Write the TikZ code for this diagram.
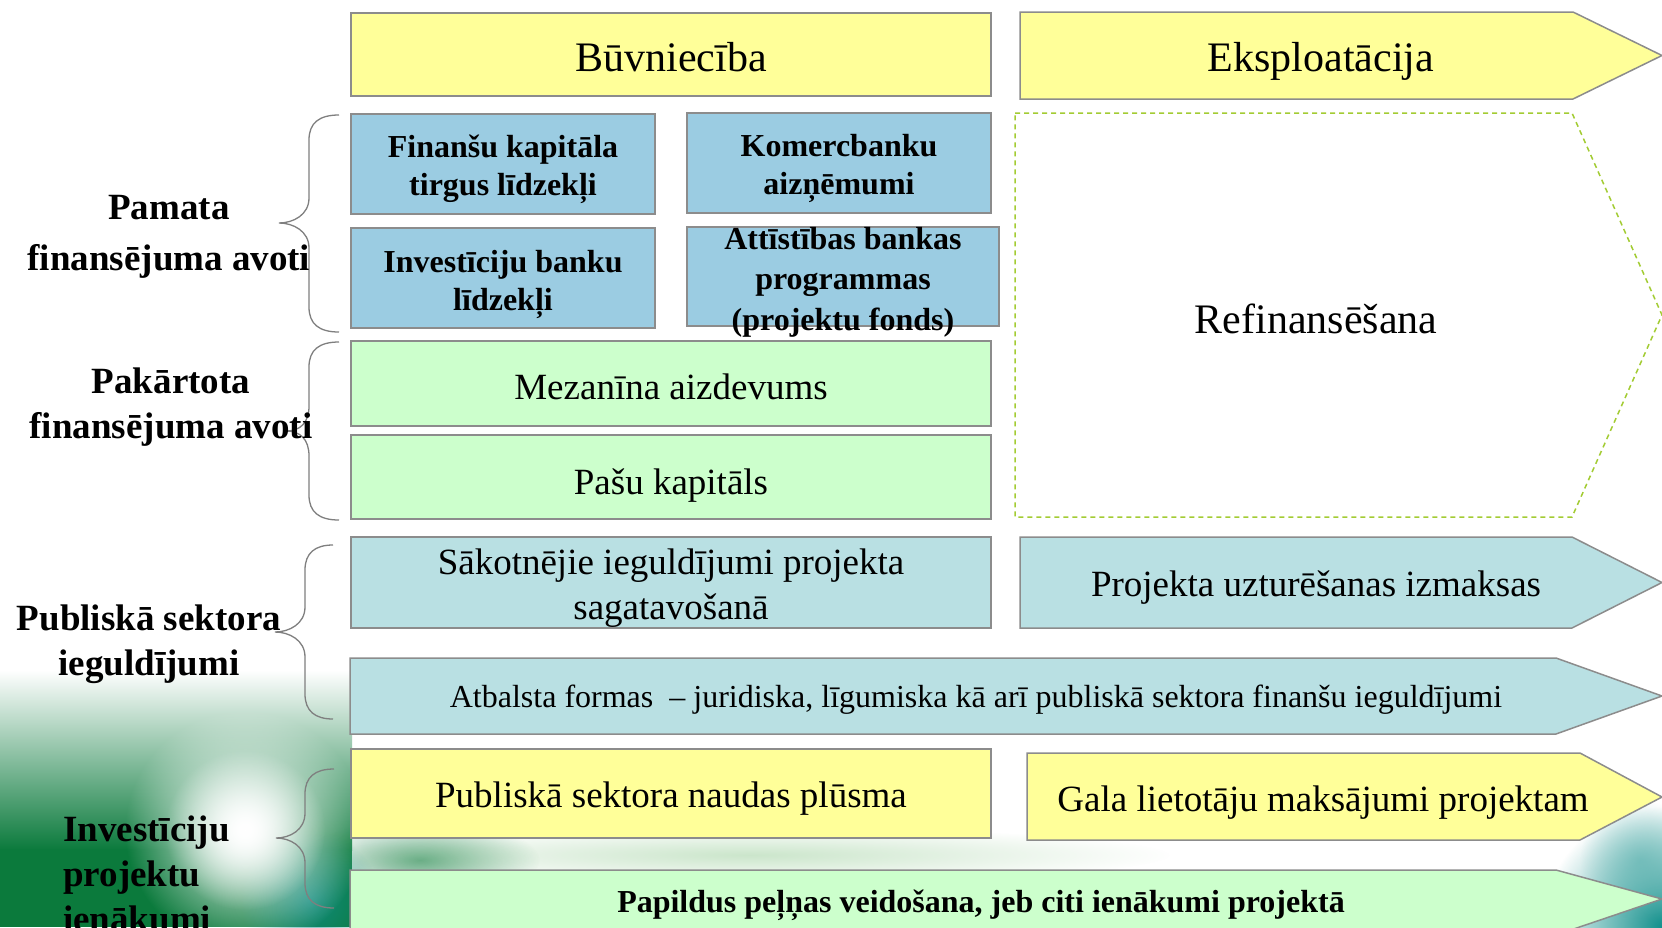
\documentclass[tikz,border=0pt]{standalone}
\usepackage{fontspec}
\setmainfont{Liberation Serif}
\usetikzlibrary{fadings}
\tikzfading[name=radfade, inner color=transparent!0, outer color=transparent!100]
\definecolor{yel}{HTML}{FFFF99}
\definecolor{bluef}{HTML}{9BCCE2}
\definecolor{grnf}{HTML}{CCFFCC}
\definecolor{tealf}{HTML}{B9E0E3}
\definecolor{bordc}{HTML}{8C8C8C}
\definecolor{dashc}{HTML}{A3CC33}
\definecolor{bracec}{HTML}{7F7F7F}
\definecolor{dkgreen}{HTML}{0B7A3C}
\definecolor{teal2}{HTML}{12908C}
\newcommand\mybrace[6]{% xend, xspine, xtip, ytop, ymid, ybot
  \draw[bracestyle] (#1,#4) .. controls ({#2+10},#4) and (#2,{#4+8}) .. (#2,{#4+25})
    -- (#2,{#5-25}) .. controls (#2,{#5-8}) and ({#3+14},#5) .. (#3,#5)
    .. controls ({#3+14},#5) and (#2,{#5+8}) .. (#2,{#5+25})
    -- (#2,{#6-25}) .. controls (#2,{#6-8}) and ({#2+10},#6) .. (#1,#6);}
\begin{document}
\begin{tikzpicture}[x=1pt,y=-1pt,
  box/.style={draw=bordc, line width=1.5pt, inner sep=0pt, align=center},
  arrowshape/.style={draw=bordc, line width=1.5pt},
  bracestyle/.style={draw=bracec, line width=1.3pt},
  big/.style={font=\fontsize{42}{48}\selectfont},
  reg/.style={font=\fontsize{37}{45}\selectfont, align=center},
  bbox/.style={font=\fontsize{32}{38}\selectfont\bfseries, align=center},
  lab/.style={font=\fontsize{37}{45}\selectfont\bfseries, align=center, inner sep=0pt},
  txt/.style={inner sep=0pt}]
\useasboundingbox (0,0) rectangle (1662,927);
\fill[white] (0,0) rectangle (1662,927);
% background
\shade[top color=white, bottom color=dkgreen] (0,670) rectangle (352,850);
\fill[dkgreen] (0,849) rectangle (352,927);
\fill[dkgreen, opacity=0.6, path fading=radfade] (420,860) ellipse (120 and 40);
\fill[teal2, opacity=0.8, path fading=radfade] (310,900) circle (70);
\fill[white, path fading=radfade] (245,830) circle (120);
\fill[white, path fading=radfade] (245,830) circle (80);
\fill[green!35!gray, opacity=0.3, path fading=radfade] (750,855) ellipse (420 and 28);
\fill[teal2, path fading=radfade] (1662,927) circle (120);
\fill[teal2!70!white, opacity=0.6, path fading=radfade] (1640,860) circle (60);

% top header
\node[box, fill=yel, minimum width=640, minimum height=83] (buv) at (671,54.5) {};
\node[txt, big] (buvt) at (671,57) {Būvniecība};
\draw[arrowshape, fill=yel] (1020,12) -- (1573,12) -- (1662,55.5) -- (1573,99) -- (1020,99) -- cycle;
\node[txt, big] (eks) at (1321,61) {Eksploatācija};

% blue boxes
\node[box, fill=bluef, minimum width=304, minimum height=100] (fin) at (503,164) {};
\node[txt, bbox] (fint) at (503,169) {Finanšu kapitāla\\tirgus līdzekļi};
\node[box, fill=bluef, minimum width=304, minimum height=100] (kom) at (839,163) {};
\node[txt, bbox] (komt) at (839,168) {Komercbanku\\aizņēmumi};
\node[box, fill=bluef, minimum width=304, minimum height=100] (inv) at (503,278) {};
\node[txt, bbox] (invt) at (503,284) {Investīciju banku\\līdzekļi};
\node[box, fill=bluef, minimum width=312, minimum height=99] (att) at (843,276.5) {};
\node[txt, bbox, font=\fontsize{32}{40.5}\selectfont\bfseries] (attt) at (843,282) {Attīstības bankas\\programmas\\(projektu fonds)};

% refinancing dashed
\draw[draw=dashc, line width=1.5pt, dash pattern=on 5pt off 4pt] (1015,113) -- (1572,113) -- (1662,315) -- (1572,517) -- (1015,517) -- cycle;
\node[txt, big] (ref) at (1316,319) {Refinansēšana};

% green boxes
\node[box, fill=grnf, minimum width=640, minimum height=85] (mez) at (671,383.5) {};
\node[txt, reg] (mezt) at (671,387) {Mezanīna aizdevums};
\node[box, fill=grnf, minimum width=640, minimum height=84] (pasu) at (671,477) {};
\node[txt, reg] (pasut) at (671,486) {Pašu kapitāls};

% public sector
\node[box, fill=tealf, minimum width=640, minimum height=91] (sak) at (671,582.5) {};
\node[txt, reg] (sakt) at (671,588) {Sākotnējie ieguldījumi projekta\\sagatavošanā};
\draw[arrowshape, fill=tealf] (1020,537) -- (1572,537) -- (1662,582.5) -- (1572,628) -- (1020,628) -- cycle;
\node[txt, reg] (proj) at (1316,588) {Projekta uzturēšanas izmaksas};
\draw[arrowshape, fill=tealf] (350,658) -- (1556,658) -- (1662,696) -- (1556,734) -- (350,734) -- cycle;
\node[txt, font=\fontsize{32}{38}\selectfont] (atb) at (976,700) {Atbalsta formas \ – juridiska, līgumiska kā arī publiskā sektora finanšu ieguldījumi};

% revenues
\node[box, fill=yel, minimum width=640, minimum height=89] (pub) at (671,793.5) {};
\node[txt, reg] (pubt) at (671,799) {Publiskā sektora naudas plūsma};
\draw[arrowshape, fill=yel] (1027,753) -- (1580,753) -- (1662,797) -- (1580,840) -- (1027,840) -- cycle;
\node[txt, reg] (gala) at (1323,803) {Gala lietotāju maksājumi projektam};
\draw[arrowshape, fill=grnf] (350,870) -- (1556,870) -- (1662,899) -- (1556,935) -- (350,935) -- cycle;
\node[txt, font=\fontsize{32}{38}\selectfont\bfseries] (pap) at (981,905) {Papildus peļņas veidošana, jeb citi ienākumi projektā};

% braces
\mybrace{339}{309}{279}{115}{223}{332}
\mybrace{339}{309}{286}{342}{431}{520}
\mybrace{333}{305}{275}{545}{632}{719}
\mybrace{334}{305}{276}{769}{838}{908}

% left labels
\node[lab, font=\fontsize{37}{51}\selectfont\bfseries] (l1) at (169,237) {Pamata\\finansējuma avoti};
\node[lab] (l2) at (171,407) {Pakārtota\\finansējuma avoti};
\node[lab] (l3) at (149,644) {Publiskā sektora\\ieguldījumi};
\node[lab, align=left, anchor=west] (l4) at (63,874) {Investīciju\\projektu\\ienākumi};
\end{tikzpicture}
\end{document}
